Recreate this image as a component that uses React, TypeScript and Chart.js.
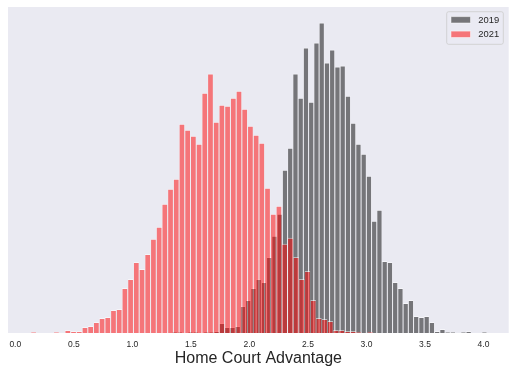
import React, { useEffect, useRef } from "react";
import { Chart, registerables } from "chart.js";

Chart.register(...registerables);

// ---- data ----
const SERIES_LABELS = ["2019", "2021"];
const X_TITLE = "Home Court Advantage";
const X_TICK_STEP = 0.5;
const X_MIN = -0.0624;
const X_MAX = 4.215;

// histogram bin definitions (60 bins each)
const BINS_2019_START = 1.3396;
const BINS_2019_WIDTH = 0.04484;
const BINS_2021_START = 0.132;
const BINS_2021_WIDTH = 0.04874;

const counts2019 = [
  1, 1, 0, 1, 1, 0, 1, 1, 2, 10, 6, 6, 7, 27, 33, 45, 54, 51, 76, 97, 119,
  163, 185, 259, 235, 285, 231, 290, 310, 270, 283, 266, 267, 237, 210, 189, 179, 157,
  112, 123, 72, 71, 51, 45, 30, 33, 17, 16, 17, 11, 2, 4, 1, 1, 0, 1, 2, 0, 0, 1,
];

const counts2021 = [
  1, 0, 0, 0, 1, 0, 3, 2, 2, 6, 7, 11, 15, 16, 23, 24, 45, 54, 71, 64,
  79, 94, 106, 129, 144, 154, 209, 203, 197, 189, 240, 259, 211, 228, 227, 235, 242, 224, 207, 198,
  190, 145, 119, 127, 89, 95, 76, 54, 62, 33, 15, 14, 12, 3, 3, 2, 2, 1, 0, 1,
];

const toPoints = (start: number, width: number, counts: number[]) =>
  counts.map((c, i) => ({ x: start + (i + 0.5) * width, y: c }));

const Y_MAX = 1.05 * Math.max(...counts2019, ...counts2021);

const FONT = "'Liberation Sans', Arial, Helvetica, sans-serif";
const TEXT_COLOR = "#262626";
const AXES_BG = "#EAEAF2";

const bgPlugin = {
  id: "axesBg",
  beforeDraw(chart: any) {
    const { ctx, chartArea } = chart;
    ctx.save();
    ctx.fillStyle = AXES_BG;
    ctx.fillRect(chartArea.left, chartArea.top, chartArea.right - chartArea.left, chartArea.bottom - chartArea.top);
    ctx.restore();
  },
};

const legendPlugin = {
  id: "boxLegend",
  afterDatasetsDraw(chart: any) {
    const { ctx, chartArea } = chart;
    const fs = 9.4;
    const boxW = 56.6;
    const boxH = 32.6;
    const x0 = chartArea.right - 5.4 - boxW;
    const y0 = chartArea.top + 4.7;
    ctx.save();
    const r = 2;
    ctx.beginPath();
    ctx.moveTo(x0 + r, y0);
    ctx.lineTo(x0 + boxW - r, y0);
    ctx.quadraticCurveTo(x0 + boxW, y0, x0 + boxW, y0 + r);
    ctx.lineTo(x0 + boxW, y0 + boxH - r);
    ctx.quadraticCurveTo(x0 + boxW, y0 + boxH, x0 + boxW - r, y0 + boxH);
    ctx.lineTo(x0 + r, y0 + boxH);
    ctx.quadraticCurveTo(x0, y0 + boxH, x0, y0 + boxH - r);
    ctx.lineTo(x0, y0 + r);
    ctx.quadraticCurveTo(x0, y0, x0 + r, y0);
    ctx.closePath();
    ctx.fillStyle = "rgba(234,234,242,0.8)";
    ctx.fill();
    ctx.strokeStyle = "rgba(204,204,204,0.8)";
    ctx.lineWidth = 1;
    ctx.stroke();

    chart.data.datasets.forEach((ds: any, i: number) => {
      const cy = y0 + 8.1 + i * 14.5;
      const px = x0 + 4.3;
      const pw = 19.5;
      const ph = 6.4;
      ctx.fillStyle = ds.backgroundColor;
      ctx.fillRect(px, cy - ph / 2, pw, ph);
      ctx.strokeStyle = "rgba(255,255,255,0.5)";
      ctx.lineWidth = 1;
      ctx.strokeRect(px, cy - ph / 2, pw, ph);
      ctx.fillStyle = TEXT_COLOR;
      ctx.font = `${fs}px ${FONT}`;
      ctx.textBaseline = "middle";
      ctx.textAlign = "left";
      ctx.fillText(ds.label, x0 + 31.6, cy + 0.5);
    });
    ctx.restore();
  },
};

export default function App() {
  const ref = useRef<HTMLCanvasElement>(null);

  useEffect(() => {
    document.body.style.margin = "0";
    Chart.defaults.font.family = FONT;
    const barCommon = {
      grouped: false,
      categoryPercentage: 1,
      barPercentage: 1,
      inflateAmount: 0,
      borderColor: "rgba(255,255,255,0.5)",
      borderWidth: { top: 1, left: 0.5, right: 0.5, bottom: 0 },
      borderSkipped: "start",
    };
    const chart = new Chart(ref.current!, {
      type: "bar",
      data: {
        datasets: [
          {
            label: SERIES_LABELS[0],
            data: toPoints(BINS_2019_START, BINS_2019_WIDTH, counts2019),
            backgroundColor: "rgba(0,0,0,0.5)",
            xAxisID: "x2",
            order: 1,
            ...barCommon,
          } as any,
          {
            label: SERIES_LABELS[1],
            data: toPoints(BINS_2021_START, BINS_2021_WIDTH, counts2021),
            backgroundColor: "rgba(255,0,0,0.5)",
            xAxisID: "x",
            order: 0,
            ...barCommon,
          } as any,
        ],
      },
      options: {
        animation: false,
        responsive: false,
        devicePixelRatio: 1,
        layout: { padding: { left: 8, right: 7.3, top: 7, bottom: 0 } },
        plugins: {
          legend: { display: false },
          tooltip: { enabled: false },
        },
        scales: {
          x: {
            type: "linear",
            position: "bottom",
            offset: false,
            min: X_MIN,
            max: X_MAX,
            grid: { display: false, drawTicks: false, offset: false },
            border: { display: false },
            ticks: {
              stepSize: X_TICK_STEP,
              includeBounds: false,
              autoSkip: false,
              maxRotation: 0,
              padding: 7,
              color: TEXT_COLOR,
              font: { size: 8.5 },
              callback: (v: any) => Number(v).toFixed(1),
            },
            title: {
              display: true,
              text: X_TITLE,
              color: TEXT_COLOR,
              font: { size: 16 },
              padding: { top: 0, bottom: 7 },
            },
            afterFit: (s: any) => {
              s.height = 42;
            },
          },
          x2: {
            type: "linear",
            position: "bottom",
            offset: false,
            min: X_MIN,
            max: X_MAX,
            display: false,
            grid: { offset: false },
          },
          y: {
            display: false,
            min: 0,
            max: Y_MAX,
          },
        },
      } as any,
      plugins: [bgPlugin, legendPlugin],
    });
    return () => chart.destroy();
  }, []);

  return (
    <div style={{ width: 516, height: 375 }}>
      <canvas ref={ref} width={516} height={375} style={{ display: "block" }} />
    </div>
  );
}
